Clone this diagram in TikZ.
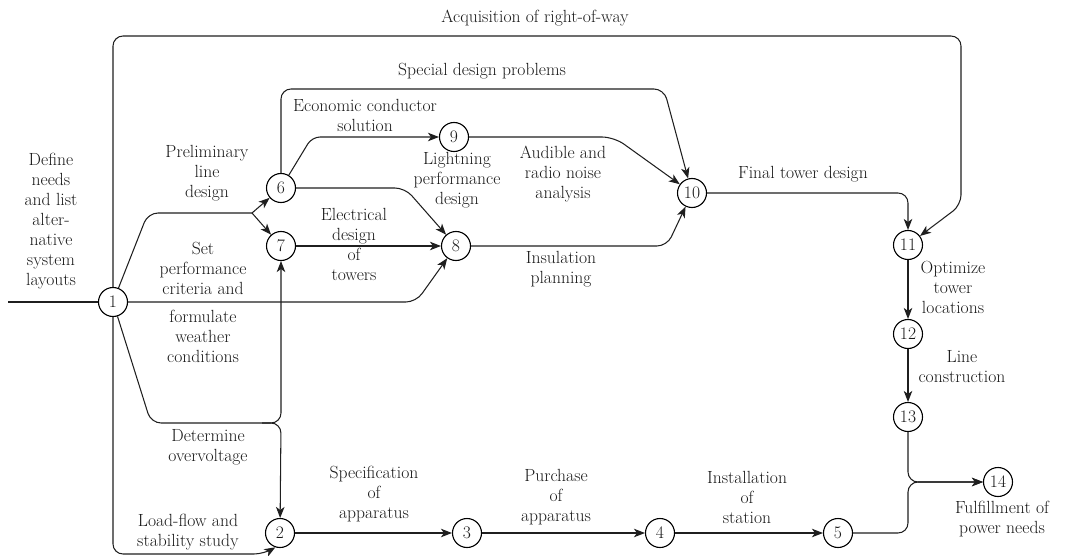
\documentclass[tikz,border=0pt]{standalone}
\usetikzlibrary{arrows.meta}
\begin{document}
\begin{tikzpicture}[x=1pt,y=-1pt,
  every node/.style={font=\fontsize{17.6}{20}\selectfont, text=black!90},
  nd/.style={circle,draw,fill=white,minimum size=29pt,inner sep=0pt,line width=1.1pt},
  lbl/.style={align=center,inner sep=0pt},
  conn/.style={line width=1.05pt,draw=black!88},
  arr/.style={conn,-{Stealth[length=11pt,width=8.5pt,inset=3pt]}},
  rc/.style={rounded corners=10pt}]
\useasboundingbox (0,0) rectangle (1065,556);

% nodes
\node[nd] (n1) at (113,302) {1};
\node[nd] (n2) at (280,533) {2};
\node[nd] (n3) at (467,533) {3};
\node[nd] (n4) at (660,533) {4};
\node[nd] (n5) at (838,533) {5};
\node[nd] (n6) at (281,188) {6};
\node[nd] (n7) at (281,246) {7};
\node[nd] (n8) at (456,246) {8};
\node[nd] (n9) at (454,137) {9};
\node[nd] (n10) at (692,193) {10};
\node[nd] (n11) at (908,245) {11};
\node[nd] (n12) at (908,334) {12};
\node[nd] (n13) at (908,417) {13};
\node[nd] (n14) at (998,482) {14};

% helper coordinates
\coordinate (in) at (8,302);
\coordinate (s67) at (252,213);
\coordinate (fk) at (281,423);
\coordinate (fk0) at (262,423);
\coordinate (tl) at (113,36);
\coordinate (tr) at (961,36);

% connectors
\draw[conn] (in) -- (n1);
\draw[arr,rc] (n1) -- (tl) -- (tr) -- (961,205) -- (n11);
\draw[conn,rc] (n1) -- (148,213) -- (s67);
\draw[arr] (s67) -- (n6);
\draw[arr] (s67) -- (n7);
\draw[arr,rc] (n1) -- (416,302) -- (n8);
\draw[arr,rc] (n1) -- (151,423) -- (fk) -- (n7);
\draw[arr,rc] (fk0) -- (fk) -- (n2);
\draw[arr,rc] (n1) -- (113,554) -- (264,554) -- (n2.252);
\draw[arr,rc] (n6) -- (281,89) -- (664,89) -- (n10);
\draw[arr,rounded corners=8pt] (n6) -- (312,137) -- (n9);
\draw[arr,rc] (n6) -- (405,188) -- (n8);
\draw[arr] (n7) -- (n8);
\draw[arr,rounded corners=12pt] (n9) -- (614,137) -- (n10);
\draw[arr,rc] (n8) -- (667,246) -- (n10);
\draw[arr,rc] (n10) -- (908,193) -- (n11);
\draw[arr] (n11) -- (n12);
\draw[arr] (n12) -- (n13);
\draw[arr,rc] (n13) -- (908,482) -- (n14);
\draw[arr,rc] (n5) -- (908,533) -- (908,482) -- (n14);
\draw[arr] (n2) -- (n3);
\draw[arr] (n3) -- (n4);
\draw[arr] (n4) -- (n5);

% labels
\node[lbl] (l1) at (535,18) {Acquisition of right-of-way};
\node[lbl] (l2) at (482,71) {Special design problems};
\node[lbl] (l3) at (365,115.5) {Economic conductor\\solution};
\node[lbl] (l4) at (207,173.5) {Preliminary\\line\\design};
\node[lbl] (l5) at (51,221) {Define\\needs\\and list\\alter-\\native\\system\\layouts};
\node[lbl] (l6) at (203,268) {Set\\performance\\criteria and};
\node[lbl] (l7) at (203,336.5) {formulate\\weather\\conditions};
\node[lbl] (l8) at (354,244) {Electrical\\design\\of\\towers};
\node[lbl] (l9) at (457,180.5) {Lightning\\performance\\design};
\node[lbl] (l10) at (563,174) {Audible and\\radio noise\\analysis};
\node[lbl] (l11) at (561,269.5) {Insulation\\planning};
\node[lbl] (l12) at (803,174) {Final tower design};
\node[lbl] (l13) at (953,287) {Optimize\\tower\\locations};
\node[lbl] (l14) at (962,367) {Line\\construction};
\node[lbl] (l15) at (1002,519.5) {Fulfillment of\\power needs};
\node[lbl] (l16) at (208,447) {Determine\\overvoltage};
\node[lbl] (l17) at (188,532) {Load-flow and\\stability study};
\node[lbl] (l18) at (374,494) {Specification\\of\\apparatus};
\node[lbl] (l19) at (556,497) {Purchase\\of\\apparatus};
\node[lbl] (l20) at (747,497) {Installation\\of\\station};
\end{tikzpicture}
\end{document}
